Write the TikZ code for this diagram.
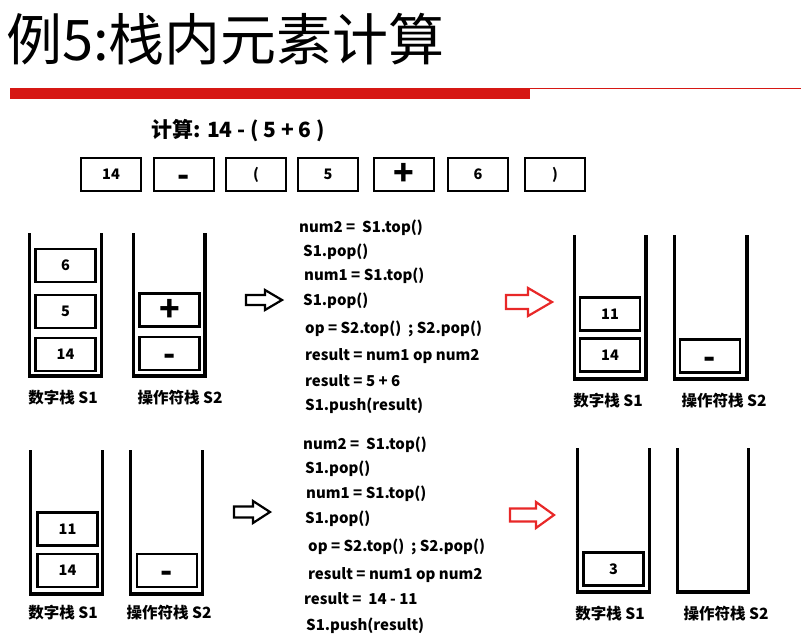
\documentclass[tikz,border=0pt]{standalone}
\usepackage{fontspec}
\setmainfont{Noto Sans CJK SC}
\definecolor{barred}{RGB}{214,24,20}
\definecolor{arrowred}{RGB}{232,40,40}
\newcommand{\lowminus}{\smash{\raisebox{-12pt}{-}}}
\tikzset{
  cell/.style={draw,line width=2.8pt,minimum width=60pt,minimum height=33pt,inner sep=0pt,font=\bfseries\fontsize{14.5}{14.5}\selectfont},
  plussign/.style={font=\bfseries\fontsize{34}{34}\selectfont},
  minussign/.style={font=\bfseries\fontsize{32}{32}\selectfont},
  wall/.style={line width=3.2pt},
  lbl/.style={font=\bfseries\fontsize{15.5}{15.5}\selectfont},
  code/.style={anchor=west,inner sep=0pt,font=\bfseries\fontsize{15}{15}\selectfont},
  hollow/.style={line width=2.2pt,line join=miter}
}
\begin{document}
\begin{tikzpicture}[x=1pt,y=-1pt,every node/.style={text centered}]
\useasboundingbox (0,0) rectangle (801,643);

% title
\node [anchor=base west,inner sep=0pt,font=\fontsize{56}{56}\selectfont] (title) at (6, 60) {例5:栈内元素计算};
\path [fill=barred] (10,88) rectangle (530,99);
\draw [barred,line width=1.2pt] (530,88.6) -- (801,88.6);

% expression
\node [font=\bfseries\fontsize{21}{21}\selectfont] (expr) at (238, 131) {计算: 14 - ( 5 + 6 )};
\node [cell] (tok1) at (111, 174.5) {14};
\node [cell,minussign] (tok2) at (184, 174.5) {\lowminus};
\node [cell] (tok3) at (256, 174.5) {(};
\node [cell] (tok4) at (328, 174.5) {5};
\node [cell,plussign] (tok5) at (404, 174.5) {+};
\node [cell] (tok6) at (478, 174.5) {6};
\node [cell] (tok7) at (555, 174.5) {)};

% first step: before
\draw [wall] (29.5,233) -- (29.5,376) -- (101.5,376) -- (101.5,233);
\draw [wall] (133.5,233) -- (133.5,376) -- (205,376) -- (205,233);
\node [cell] (aonesix) at (65.5, 265.5) {6};
\node [cell] (aonefive) at (65.5, 311.5) {5};
\node [cell] (aonefourteen) at (65.5, 354.5) {14};
\node [cell,plussign] (atwoplus) at (169.5, 310) {+};
\node [cell,minussign] (atwominus) at (169.5, 353.5) {\lowminus};
\node [lbl] (aonelbl) at (63, 398) {数字栈 S1};
\node [lbl] (atwolbl) at (180, 398) {操作符栈 S2};

\draw [hollow] (246,295) -- (265,295) -- (265,290) -- (282,300) -- (265,310) -- (265,305) -- (246,305) -- cycle;

\node [code] (acode1) at (299, 228) {num2 =\ \ S1.top()};
\node [code] (acode2) at (303, 252) {S1.pop()};
\node [code] (acode3) at (304, 276) {num1 = S1.top()};
\node [code] (acode4) at (303, 301) {S1.pop()};
\node [code] (acode5) at (305, 329) {op = S2.top()\ \ ; S2.pop()};
\node [code] (acode6) at (305, 356) {result = num1 op num2};
\node [code] (acode7) at (305, 381) {result = 5 + 6};
\node [code] (acode8) at (305, 406) {S1.push(result)};

\draw [hollow,arrowred] (506,295) -- (528,295) -- (528,288) -- (552,302) -- (528,316) -- (528,309) -- (506,309) -- cycle;

% first step: after
\draw [wall] (574.5,235) -- (574.5,379) -- (646,379) -- (646,235);
\draw [wall] (674.5,235) -- (674.5,379) -- (747,379) -- (747,235);
\node [cell] (bonetop) at (610, 314) {11};
\node [cell] (bonebottom) at (610, 355) {14};
\node [cell,minussign] (btwominus) at (710, 356) {\lowminus};
\node [lbl] (bonelbl) at (608, 401) {数字栈 S1};
\node [lbl] (btwolbl) at (724, 401) {操作符栈 S2};

% second step: before
\draw [wall] (30.5,450) -- (30.5,594) -- (102.5,594) -- (102.5,450);
\draw [wall] (130.5,450) -- (130.5,594) -- (202.5,594) -- (202.5,450);
\node [cell] (conetop) at (67.5, 529) {11};
\node [cell] (conebottom) at (67.5, 570.5) {14};
\node [cell,minussign] (ctwominus) at (167, 570.5) {\lowminus};
\node [lbl] (conelbl) at (63, 613) {数字栈 S1};
\node [lbl] (ctwolbl) at (169, 613) {操作符栈 S2};

\draw [hollow] (234,506.5) -- (253,506.5) -- (253,501) -- (270,512) -- (253,523) -- (253,517.5) -- (234,517.5) -- cycle;

\node [code] (ccode1) at (303, 445) {num2 =\ \ S1.top()};
\node [code] (ccode2) at (305, 469) {S1.pop()};
\node [code] (ccode3) at (306, 494) {num1 = S1.top()};
\node [code] (ccode4) at (305, 519) {S1.pop()};
\node [code] (ccode5) at (308, 547) {op = S2.top()\ \ ; S2.pop()};
\node [code] (ccode6) at (308, 575) {result = num1 op num2};
\node [code] (ccode7) at (304, 599) {result =\ \ 14 - 11};
\node [code] (ccode8) at (306, 626) {S1.push(result)};

\draw [hollow,arrowred] (510,508.5) -- (536,508.5) -- (536,502) -- (554,515) -- (536,528) -- (536,521.5) -- (510,521.5) -- cycle;

% second step: after
\draw [wall] (577.5,448) -- (577.5,592) -- (649.5,592) -- (649.5,448);
\draw [wall] (677.5,448) -- (677.5,592) -- (748.5,592) -- (748.5,448);
\node [cell] (done) at (613.5, 569) {3};
\node [lbl] (donelbl) at (610, 614) {数字栈 S1};
\node [lbl] (dtwolbl) at (726, 614) {操作符栈 S2};

\end{tikzpicture}
\end{document}
